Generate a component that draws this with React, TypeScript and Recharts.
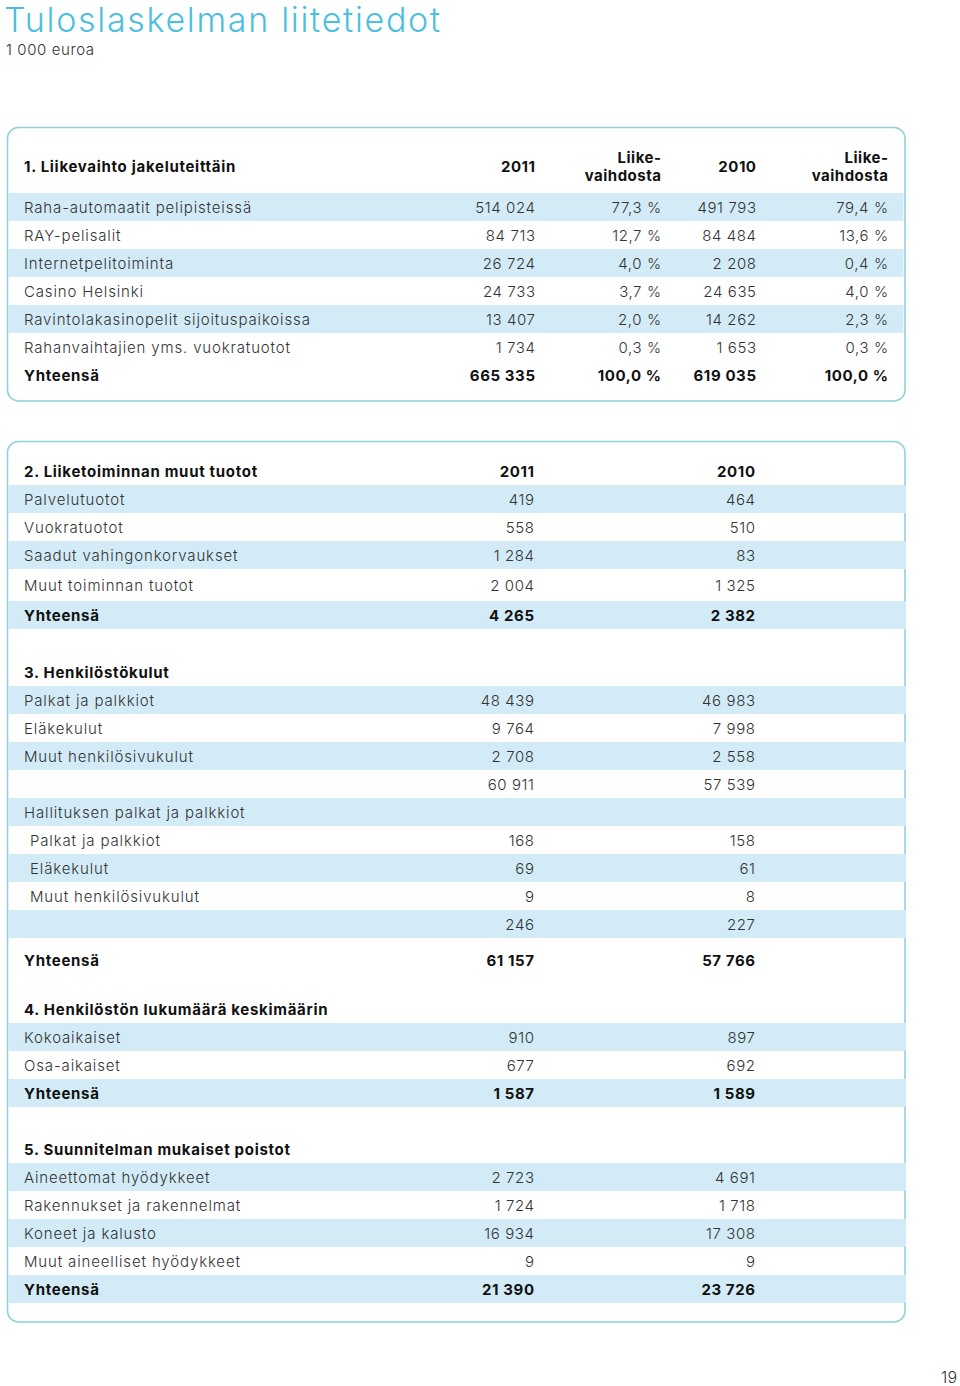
import React from 'react';
import { ComposedChart, XAxis, YAxis, Scatter, ReferenceArea } from 'recharts';

// ---------------- data ----------------
const pageTitle = 'Tuloslaskelman liitetiedot';
const pageUnit = '1 000 euroa';
const pageNumber = '19';

const s1Title = '1. Liikevaihto jakeluteittäin';
const s1Columns = ['2011', 'Liike-\nvaihdosta', '2010', 'Liike-\nvaihdosta'];
const s1Labels = [
  'Raha-automaatit pelipisteissä',
  'RAY-pelisalit',
  'Internetpelitoiminta',
  'Casino Helsinki',
  'Ravintolakasinopelit sijoituspaikoissa',
  'Rahanvaihtajien yms. vuokratuotot',
  'Yhteensä',
];
const s1Sales2011 = [514024, 84713, 26724, 24733, 13407, 1734, 665335];
const s1Share2011 = [77.3, 12.7, 4.0, 3.7, 2.0, 0.3, 100.0];
const s1Sales2010 = [491793, 84484, 2208, 24635, 14262, 1653, 619035];
const s1Share2010 = [79.4, 13.6, 0.4, 4.0, 2.3, 0.3, 100.0];

const yearColumns = ['2011', '2010'];

const s2Title = '2. Liiketoiminnan muut tuotot';
const s2Labels = ['Palvelutuotot', 'Vuokratuotot', 'Saadut vahingonkorvaukset', 'Muut toiminnan tuotot', 'Yhteensä'];
const s2Values2011 = [419, 558, 1284, 2004, 4265];
const s2Values2010 = [464, 510, 83, 1325, 2382];

const s3Title = '3. Henkilöstökulut';
const s3Labels = [
  'Palkat ja palkkiot',
  'Eläkekulut',
  'Muut henkilösivukulut',
  '',
  'Hallituksen palkat ja palkkiot',
  'Palkat ja palkkiot',
  'Eläkekulut',
  'Muut henkilösivukulut',
  '',
  'Yhteensä',
];
const s3Values2011 = [48439, 9764, 2708, 60911, null, 168, 69, 9, 246, 61157];
const s3Values2010 = [46983, 7998, 2558, 57539, null, 158, 61, 8, 227, 57766];

const s4Title = '4. Henkilöstön lukumäärä keskimäärin';
const s4Labels = ['Kokoaikaiset', 'Osa-aikaiset', 'Yhteensä'];
const s4Values2011 = [910, 677, 1587];
const s4Values2010 = [897, 692, 1589];

const s5Title = '5. Suunnitelman mukaiset poistot';
const s5Labels = ['Aineettomat hyödykkeet', 'Rakennukset ja rakennelmat', 'Koneet ja kalusto', 'Muut aineelliset hyödykkeet', 'Yhteensä'];
const s5Values2011 = [2723, 1724, 16934, 9, 21390];
const s5Values2010 = [4691, 1718, 17308, 9, 23726];

// ---------------- layout / style ----------------
const W = 960;
const H = 1386;
const FONT = 'Inter, "Open Sans", sans-serif';
const BAND = '#d2ebf6';
const BORDER = '#8fd2d8';
const TITLE_BLUE = '#4cbfe0';
const TEXT = '#333333';
const BOLD_TEXT = '#111111';
const ROW_H = 28;
const LABEL_X = 24;
const INDENT_X = 30;
const BOX_L = 7.5;
const BOX_R = 905;
const BOX1 = { top: 127.5, bottom: 401 };
const BOX2 = { top: 441.5, bottom: 1322 };
const COLS1 = [535, 661, 756, 888];
const COLS2 = [534, 755];
const FS = 15;
const LS_REG = 0.85;
const LS_BOLD = 0.7;

type Cell = { x: number; y: number; text: string; bold?: boolean; anchor?: string; size?: number; color?: string; weight?: number; ls?: number };
type Band = { y1: number; y2: number; x2: number };

const fmtInt = (n: number | null) => (n === null ? '' : String(n).replace(/\B(?=(\d{3})+(?!\d))/g, ' '));
const fmtPct = (n: number) => n.toFixed(1).replace('.', ',') + ' %';

const cells: Cell[] = [];
const bands: Band[] = [];

// page texts
cells.push({ x: 4, y: 19.5, text: pageTitle, anchor: 'start', size: 34, color: TITLE_BLUE, weight: 300, ls: 1.7 });
cells.push({ x: 6, y: 49, text: pageUnit, anchor: 'start', size: 15, color: TEXT, ls: 0.6 });
cells.push({ x: 957, y: 1377, text: pageNumber, anchor: 'end', size: 16, color: TEXT, ls: 0 });

// section 1
{
  const headerY = 166;
  cells.push({ x: LABEL_X, y: headerY, text: s1Title, bold: true });
  s1Columns.forEach((c, i) => {
    const lines = c.split('\n');
    lines.forEach((ln, j) => {
      cells.push({ x: COLS1[i], y: headerY + (j - (lines.length - 1) / 2) * 18, text: ln, bold: true, anchor: 'end', ls: 0.5 });
    });
  });
  let top = 193;
  s1Labels.forEach((lab, i) => {
    const isTotal = i === s1Labels.length - 1;
    if (i % 2 === 0 && !isTotal) bands.push({ y1: top, y2: top + ROW_H, x2: BOX_R - 1.5 });
    const cy = top + ROW_H / 2;
    cells.push({ x: LABEL_X, y: cy, text: lab, bold: isTotal });
    const vals = [fmtInt(s1Sales2011[i]), fmtPct(s1Share2011[i]), fmtInt(s1Sales2010[i]), fmtPct(s1Share2010[i])];
    vals.forEach((v, k) => cells.push({ x: COLS1[k], y: cy, text: v, bold: isTotal, anchor: 'end', ls: 0.6 }));
    top += ROW_H;
  });
}

// sections 2-5 (second box)
const SECTIONS = [
  { title: s2Title, labels: s2Labels, v11: s2Values2011, v10: s2Values2010, gapBefore: 16, heights: { 3: 32 } as Record<number, number>, gaps: {} as Record<number, number>, indent: [] as number[], totals: [4] },
  { title: s3Title, labels: s3Labels, v11: s3Values2011, v10: s3Values2010, gapBefore: 29, heights: {}, gaps: { 9: 8 }, indent: [5, 6, 7], totals: [9] },
  { title: s4Title, labels: s4Labels, v11: s4Values2011, v10: s4Values2010, gapBefore: 21, heights: {}, gaps: {}, indent: [], totals: [2] },
  { title: s5Title, labels: s5Labels, v11: s5Values2011, v10: s5Values2010, gapBefore: 28, heights: {}, gaps: {}, indent: [], totals: [4] },
];

{
  let top = BOX2.top - 0.5;
  SECTIONS.forEach((sec, si) => {
    top += sec.gapBefore;
    const hy = top + ROW_H / 2;
    cells.push({ x: LABEL_X, y: hy, text: sec.title, bold: true });
    if (si === 0) {
      yearColumns.forEach((c, k) => cells.push({ x: COLS2[k], y: hy, text: c, bold: true, anchor: 'end', ls: 0.6 }));
    }
    top += ROW_H;
    sec.labels.forEach((lab, i) => {
      top += sec.gaps[i] ?? 0;
      const h = sec.heights[i] ?? ROW_H;
      const isTotal = sec.totals.includes(i);
      if (i % 2 === 0) bands.push({ y1: top, y2: top + h, x2: BOX_R + 1 });
      const cy = top + h / 2;
      if (lab) cells.push({ x: sec.indent.includes(i) ? INDENT_X : LABEL_X, y: cy, text: lab, bold: isTotal });
      const a = fmtInt(sec.v11[i]);
      const b = fmtInt(sec.v10[i]);
      if (a) cells.push({ x: COLS2[0], y: cy, text: a, bold: isTotal, anchor: 'end', ls: 0.6 });
      if (b) cells.push({ x: COLS2[1], y: cy, text: b, bold: isTotal, anchor: 'end', ls: 0.6 });
      top += h;
    });
  });
}

const TextShape = (props: any) => {
  const p: Cell = props.payload ?? props;
  const ls = p.ls ?? (p.bold ? LS_BOLD : LS_REG);
  const anchor = p.anchor ?? 'start';
  // compensate trailing letter spacing for right-aligned text
  const x = anchor === 'end' ? props.cx + ls : props.cx;
  return (
    <text
      x={x}
      y={props.cy}
      textAnchor={anchor}
      dominantBaseline="central"
      fontFamily={FONT}
      fontSize={p.size ?? FS}
      fontWeight={p.weight ?? (p.bold ? 700 : 300)}
      letterSpacing={ls}
      fill={p.color ?? (p.bold ? BOLD_TEXT : TEXT)}
    >
      {p.text}
    </text>
  );
};

const BoxShape = (props: any) => (
  <rect x={props.x} y={props.y} width={props.width} height={props.height} rx={11} ry={11} fill="none" stroke={BORDER} strokeWidth={1.6} />
);

const PlainRect = (props: any) => (
  <rect x={props.x} y={props.y} width={props.width} height={props.height} fill={BAND} stroke="none" />
);

export default function App() {
  return (
    <div style={{ position: 'absolute', left: 0, top: 0, width: W, height: H, background: '#fff' }}>
      <ComposedChart width={W} height={H} margin={{ top: 0, right: 0, bottom: 0, left: 0 }} data={cells}>
        <XAxis type="number" dataKey="x" domain={[0, W]} hide allowDataOverflow />
        <YAxis type="number" dataKey="y" domain={[0, H]} reversed hide allowDataOverflow />
        <ReferenceArea x1={BOX_L} x2={BOX_R} y1={BOX1.top} y2={BOX1.bottom} shape={BoxShape} ifOverflow="visible" />
        <ReferenceArea x1={BOX_L} x2={BOX_R} y1={BOX2.top} y2={BOX2.bottom} shape={BoxShape} ifOverflow="visible" />
        {bands.map((b, i) => (
          <ReferenceArea key={i} x1={BOX_L + 0.8} x2={b.x2} y1={b.y1} y2={b.y2} shape={PlainRect} ifOverflow="visible" />
        ))}
        <Scatter data={cells} dataKey="y" shape={TextShape} isAnimationActive={false} />
      </ComposedChart>
    </div>
  );
}
